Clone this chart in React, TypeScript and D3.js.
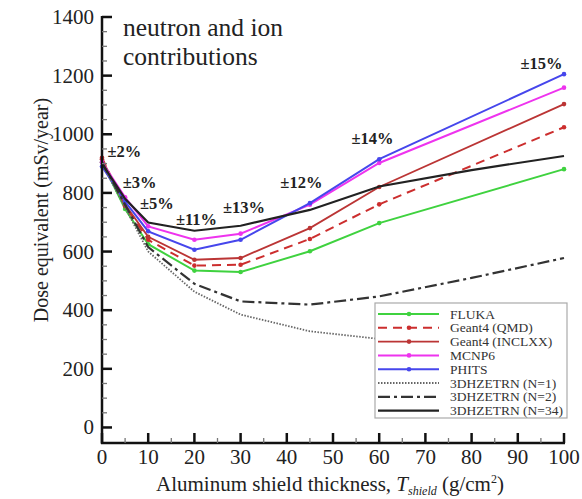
import { useMemo } from "react";
import * as d3 from "d3";

const WIDTH = 582;
const HEIGHT = 499;

// shield thickness (g/cm2) for the Monte Carlo codes
const mcThickness = [0, 5, 10, 20, 30, 45, 60, 100];
const flukaDose = [905, 745, 625, 535, 530, 601, 697, 881];
const qmdDose = [920, 755, 640, 552, 555, 643, 761, 1024];
const inclxxDose = [915, 760, 650, 572, 578, 680, 820, 1103];
const mcnp6Dose = [905, 785, 686, 640, 661, 760, 902, 1159];
const phitsDose = [890, 770, 669, 606, 640, 765, 915, 1205];

// 3DHZETRN runs
const hzeThickness = [0, 5, 10, 20, 30, 45, 60, 80, 100];
const hzeN1Dose = [900, 750, 600, 463, 385, 328, 302, 275, 255];
const hzeN2Dose = [905, 760, 615, 490, 430, 419, 447, 510, 578];
const hzeN34Dose = [900, 780, 699, 671, 688, 742, 822, 878, 926];

// spread labels (text, thickness, dose where the label sits)
const spreadText = ["±2%", "±3%", "±5%", "±11%", "±13%", "±12%", "±14%", "±15%"];
const spreadX = [1.2, 4.5, 8.2, 16.0, 26.2, 38.6, 54.0, 90.6];
const spreadY = [940, 834, 763, 708, 749, 834, 984, 1243];

const xTicks = d3.range(0, 101, 10);
const yTicks = d3.range(0, 1401, 200);

const FONT = "'Liberation Serif', 'DejaVu Serif', serif";

const SERIES = [
  { name: "FLUKA", xs: mcThickness, ys: flukaDose, color: "#3fd23f", dash: null, width: 2, dots: true },
  { name: "Geant4 (QMD)", xs: mcThickness, ys: qmdDose, color: "#cc2e2e", dash: "9 6", width: 2, dots: true },
  { name: "Geant4 (INCLXX)", xs: mcThickness, ys: inclxxDose, color: "#bb3535", dash: null, width: 1.8, dots: true },
  { name: "MCNP6", xs: mcThickness, ys: mcnp6Dose, color: "#ee33ee", dash: null, width: 2, dots: true },
  { name: "PHITS", xs: mcThickness, ys: phitsDose, color: "#4646ec", dash: null, width: 2, dots: true },
  { name: "3DHZETRN (N=1)", xs: hzeThickness, ys: hzeN1Dose, color: "#666", dash: "1.5 1.5", width: 1.8, dots: false },
  { name: "3DHZETRN (N=2)", xs: hzeThickness, ys: hzeN2Dose, color: "#333", dash: "12 4 3 4", width: 2.2, dots: false },
  { name: "3DHZETRN (N=34)", xs: hzeThickness, ys: hzeN34Dose, color: "#222", dash: null, width: 2.2, dots: false },
];

export default function App() {
  const xScale = useMemo(() => d3.scaleLinear().domain([0, 100]).range([102, 564]), []);
  const yScale = useMemo(() => d3.scaleLinear().domain([-53, 1400]).range([443, 17]), []);

  const line = d3
    .line<[number, number]>()
    .x((d) => xScale(d[0]))
    .y((d) => yScale(d[1]));

  const x0 = xScale(0);
  const yBase = yScale.range()[0];

  // legend box
  const lgX = 375;
  const lgY = 303;
  const lgW = 192;
  const lgH = 115;
  const rowH = 13.8;

  return (
    <svg
      width={WIDTH}
      height={HEIGHT}
      style={{ position: "absolute", left: 0, top: 0, background: "white" }}
      fontFamily={FONT}
    >
      {/* series */}
      {SERIES.map((s) => {
        const pts = s.xs.map((x, i) => [x, s.ys[i]] as [number, number]);
        return (
          <g key={s.name}>
            <path
              d={line(pts) || ""}
              fill="none"
              stroke={s.color}
              strokeWidth={s.width}
              strokeDasharray={s.dash || undefined}
            />
            {s.dots &&
              pts.map((p, i) => (
                <circle key={i} cx={xScale(p[0])} cy={yScale(p[1])} r={2.3} fill={s.color} />
              ))}
          </g>
        );
      })}

      {/* spread labels */}
      {spreadText.map((t, i) => (
        <text
          key={t}
          x={xScale(spreadX[i])}
          y={yScale(spreadY[i])}
          dominantBaseline="central"
          fontSize={16.5}
          fontWeight="bold"
          fill="#222"
        >
          {t}
        </text>
      ))}

      {/* title */}
      <text x={123} y={36} fontSize={25.5} fill="#222">neutron and ion</text>
      <text x={123} y={65} fontSize={25.5} fill="#222">contributions</text>

      {/* y axis */}
      <line x1={x0} x2={x0} y1={yScale(1400) - 1} y2={yBase + 1} stroke="#111" strokeWidth={2.5} />
      {d3.range(0, 1401, 50).map((v) => {
        const major = v % 200 === 0;
        return (
          <line
            key={v}
            x1={x0}
            x2={x0 + (major ? 10 : 5)}
            y1={yScale(v)}
            y2={yScale(v)}
            stroke={major ? "#111" : "#777"}
            strokeWidth={major ? 2.5 : 1.3}
          />
        );
      })}
      {yTicks.map((v) => (
        <text
          key={v}
          x={x0 - 8}
          y={yScale(v)}
          textAnchor="end"
          dominantBaseline="central"
          fontSize={21}
          fill="#222"
        >
          {v}
        </text>
      ))}
      <text
        transform={`translate(41,210) rotate(-90)`}
        textAnchor="middle"
        dominantBaseline="central"
        fontSize={20}
        fill="#222"
      >
        Dose equivalent (mSv/year)
      </text>

      {/* x axis */}
      <line x1={x0 - 1} x2={xScale(100) + 1} y1={yBase} y2={yBase} stroke="#111" strokeWidth={2.5} />
      {d3.range(0, 101, 5).map((v) => {
        const major = v % 10 === 0;
        return (
          <line
            key={v}
            x1={xScale(v)}
            x2={xScale(v)}
            y1={yBase}
            y2={yBase - (major ? 10 : 5)}
            stroke={major ? "#111" : "#777"}
            strokeWidth={major ? 2.5 : 1.3}
          />
        );
      })}
      {xTicks.map((v) => (
        <text
          key={v}
          x={xScale(v)}
          y={457}
          textAnchor="middle"
          dominantBaseline="central"
          fontSize={21}
          fill="#222"
        >
          {v}
        </text>
      ))}
      <text x={330} y={491} textAnchor="middle" fontSize={21} fill="#222">
        Aluminum shield thickness,{" "}
        <tspan fontStyle="italic">T</tspan>
        <tspan fontStyle="italic" fontSize={12} dy={4}>shield</tspan>
        <tspan dy={-4}> (g/cm</tspan>
        <tspan fontSize={12} dy={-8}>2</tspan>
        <tspan dy={8}>)</tspan>
      </text>

      {/* legend */}
      <rect x={lgX} y={lgY} width={lgW} height={lgH} fill="white" stroke="#aaa" strokeWidth={1.2} />
      {SERIES.map((s, i) => {
        const cy = lgY + 11 + i * rowH;
        return (
          <g key={s.name}>
            <line
              x1={lgX + 3}
              x2={lgX + 64}
              y1={cy}
              y2={cy}
              stroke={s.color}
              strokeWidth={s.width}
              strokeDasharray={s.dash || undefined}
            />
            {s.dots && <circle cx={lgX + 34} cy={cy} r={2.3} fill={s.color} />}
            <text x={lgX + 75} y={cy} dominantBaseline="central" fontSize={13.5} fill="#333">
              {s.name}
            </text>
          </g>
        );
      })}
    </svg>
  );
}
